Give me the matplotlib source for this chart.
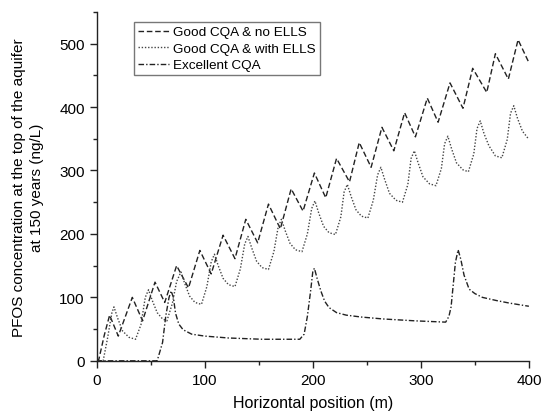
import matplotlib
matplotlib.use("Agg")
import matplotlib.pyplot as plt
from matplotlib.ticker import MultipleLocator

plt.rcParams['font.family'] = ['Liberation Sans', 'DejaVu Sans']

# Good CQA & no ELLS (dashed)
x_no_ells = [0, 2, 7, 12, 20, 33, 42.5, 54, 63, 74, 85, 95.5, 106, 117, 128, 138, 149, 159,
             170, 180, 191, 201.5, 212, 222, 234, 243, 254, 264, 275, 285, 295, 306, 316,
             327, 339, 348, 361, 369, 381, 390, 400]
y_no_ells = [0, 2, 40, 72, 39, 100, 63, 124, 92, 150, 115, 174, 137, 198, 161, 223, 186, 247,
             208, 271, 236, 296, 257, 319, 282, 344, 305, 368, 331, 391, 353, 414, 376,
             438, 398, 461, 423, 484, 444, 506, 470]

# Good CQA & with ELLS (dotted)
x_ells = [0, 6, 10, 14, 16, 19.5, 24, 30, 36, 41, 45, 48, 51.5, 56, 61, 65, 70, 74, 78,
          81.5, 86, 91, 97, 102, 106, 109, 112.5, 117, 122, 128, 133, 137, 140,
          143.5, 148, 153, 159, 164, 168, 171, 174.5, 179, 184, 190, 195, 199, 202,
          205.5, 210, 215, 221, 226, 229, 232, 235.5, 240, 245, 251, 256, 260, 263,
          266.5, 271, 277, 283, 288, 291, 294, 297.5, 302, 308, 314, 319, 322, 325,
          328.5, 333, 339, 344, 349, 352, 355, 358.5, 363, 369, 375, 380, 383, 386,
          389.5, 394, 400]
y_ells = [0, 0, 35, 75, 85, 67, 47, 37, 34, 57, 100, 112, 95, 76, 66, 63, 90, 125, 140,
          122, 102, 92, 89, 117, 156, 168, 150, 130, 120, 117, 145, 184, 196,
          178, 157, 147, 144, 172, 211, 223, 205, 185, 175, 172, 200, 240, 252,
          233, 212, 202, 199, 227, 266, 278, 259, 238, 228, 225, 253, 293, 305,
          286, 264, 253, 250, 278, 319, 331, 312, 290, 279, 276, 303, 342, 354,
          334, 312, 301, 298, 326, 366, 378, 358, 339, 323, 320, 349, 390, 402,
          382, 362, 349]

# Excellent CQA (dash-dot)
x_excellent = [0, 56, 61, 64, 67, 69, 71, 73, 76, 80, 88, 100, 122, 153, 188, 192, 195,
               198, 200, 201.5, 204, 207.5, 211, 215, 222, 231, 245, 265, 295, 323,
               326, 328, 330, 332, 334.5, 337, 340, 344.7, 350, 357, 370, 382, 400]
y_excellent = [0, 0, 29, 71, 100, 110, 100, 75, 58, 49, 42, 39, 36, 34, 34, 42, 70,
               110, 140, 146, 130, 110, 94, 84, 76, 72, 69, 66, 63, 61,
               70, 85, 120, 155, 175, 160, 135, 113, 106, 100, 95, 91, 86]

fig = plt.figure(figsize=(5.43, 4.14), dpi=100)
ax = fig.add_axes([0.178, 0.126, 0.796, 0.843])

ax.plot(x_no_ells, y_no_ells, color='#222222', lw=1.0, linestyle=(0, (4, 2)),
        label='Good CQA & no ELLS')
ax.plot(x_ells, y_ells, color='#444444', lw=1.0, linestyle=(0, (1, 1.3)),
        label='Good CQA & with ELLS')
ax.plot(x_excellent, y_excellent, color='#222222', lw=1.0,
        linestyle=(0, (4, 1.5, 1, 1.5)), label='Excellent CQA')

ax.set_xlim(0, 400)
ax.set_ylim(0, 550)
ax.xaxis.set_major_locator(MultipleLocator(100))
ax.xaxis.set_minor_locator(MultipleLocator(50))
ax.yaxis.set_major_locator(MultipleLocator(100))
ax.yaxis.set_minor_locator(MultipleLocator(50))
ax.tick_params(which='major', direction='out', length=5, width=1, labelsize=11,
               color='#222222')
ax.tick_params(which='minor', direction='out', length=3, width=1, color='#222222')

for side in ['top', 'right']:
    ax.spines[side].set_visible(False)
for side in ['left', 'bottom']:
    ax.spines[side].set_color('#222222')
    ax.spines[side].set_linewidth(1.0)

ax.set_xlabel('Horizontal position (m)', fontsize=11.5, labelpad=6)
ax.set_ylabel('PFOS concentration at the top of the aquifer\nat 150 years (ng/L)',
              fontsize=11, labelpad=11, linespacing=1.35)

leg = ax.legend(loc='upper left', bbox_to_anchor=(0.086, 0.971), borderaxespad=0,
                fontsize=9.7, fancybox=False, framealpha=1, edgecolor='#777777',
                handlelength=2.3, handletextpad=0.3, borderpad=0.3, labelspacing=0.3)
leg.get_frame().set_linewidth(1.0)

fig.savefig('out.png', dpi=100)
